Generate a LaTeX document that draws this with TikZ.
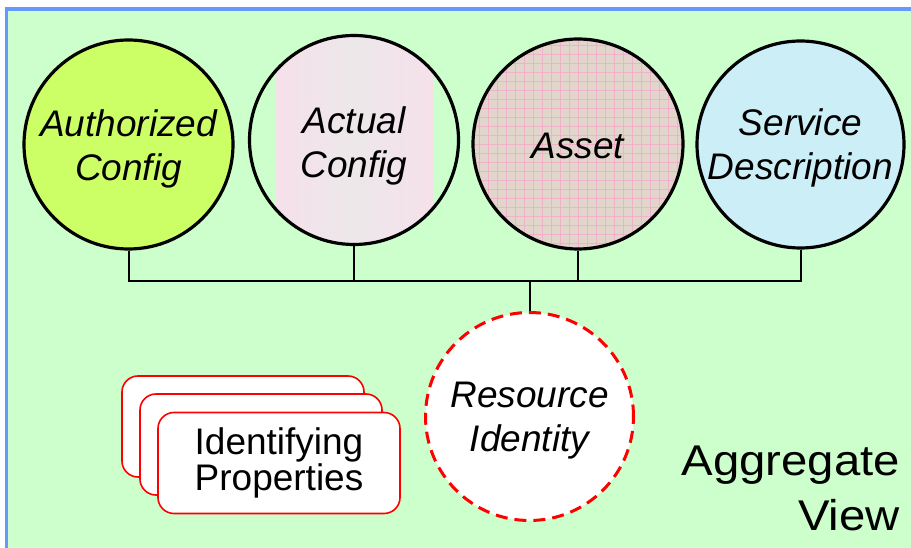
\documentclass[tikz,border=0pt]{standalone}
\usepackage{fontspec}
\setmainfont{Liberation Sans}
\definecolor{bggreen}{HTML}{CCFFCC}
\definecolor{frameblue}{HTML}{6699FF}
\definecolor{authfill}{HTML}{CCFF66}
\definecolor{actpink}{HTML}{F6E0EA}
\definecolor{actgray}{HTML}{ECE8EA}
\definecolor{assetfill}{HTML}{E2D6CC}
\definecolor{assetgrid}{HTML}{F4AACB}
\definecolor{svcfill}{HTML}{CCEEF6}
\tikzset{
  bigc/.style={circle, draw=black, line width=3.2pt, inner sep=0pt},
  ctext/.style={font=\fontsize{37}{44}\selectfont\itshape, align=center, inner sep=0pt},
  bus/.style={draw=black, line width=2pt},
  propbox/.style={draw=red, line width=1.6pt, fill=white, rounded corners=16pt,
    minimum width=242pt, minimum height=101pt, inner sep=0pt},
  ptext/.style={font=\fontsize{37}{33}\selectfont, align=center, inner sep=0pt},
  ridash/.style={circle, draw=red, line width=3pt, fill=white, dash pattern=on 12pt off 7pt,
    minimum size=208pt, inner sep=0pt}
}
\begin{document}
\begin{tikzpicture}[x=1pt,y=-1pt]
\useasboundingbox (0,0) rectangle (911,548);
% frame
\fill[white] (0,0) rectangle (911,548);
\draw[frameblue, fill=bggreen, line width=3.5pt] (6.5,9) rectangle (930,570);

% Actual config shading band
\begin{scope}
  \clip (354,140) circle[radius=105pt];
  \shade[left color=actpink, right color=actpink, middle color=actgray] (276,30) rectangle (433,250);
\end{scope}
% Asset grid pattern
\begin{scope}
  \clip (578,144) circle[radius=105pt];
  \fill[assetfill] (470,36) rectangle (686,252);
  \foreach \i in {0,...,24} {
    \draw[assetgrid, line width=0.7pt, opacity=0.8] (470+9*\i,36) -- (470+9*\i,252);
    \draw[assetgrid, line width=0.7pt, opacity=0.8] (470,36+9*\i) -- (686,36+9*\i);
  }
\end{scope}

% circles
\node[bigc, fill=authfill, minimum size=209pt] (a1) at (128.5,144.5) {};
\node[bigc, minimum size=209pt] (a2) at (354,140) {};
\node[bigc, minimum size=210pt] (a3) at (578,144) {};
\node[bigc, fill=svcfill, minimum size=207pt] (a4) at (800.5,144.5) {};

\node[ctext] (t1) at ([yshift=-4pt]a1.center) {Authorized\\Config};
\node[ctext] (t2) at ([yshift=-6pt]a2.center) {Actual\\Config};
\node[ctext] (t3) at ([yshift=-2pt]a3.center) {Asset};
\node[ctext] (t4) at ([yshift=-3.5pt]a4.center) {Service\\Description};

% connectors
\coordinate (hub) at (529.5,281);
\draw[bus] (a1.south) |- (hub);
\draw[bus] (a4.south) |- (hub);
\draw[bus] (a2.south) |- (hub);
\draw[bus] (a3.south) |- (hub);

\node[ridash] (ri) at (529.5,416.5) {};
\node[ctext] (rit) at ([yshift=-4.5pt]ri.center) {Resource\\Identity};
\draw[bus] (hub) -- (ri.north);

% identifying properties
\node[propbox] (p1) at (243,426.5) {};
\node[propbox] (p2) at (261,444.5) {};
\node[propbox] (p3) at (279,463) {};
\node[ptext] (pt) at ([yshift=0pt]p3.center) {Identifying\\Properties};

% aggregate view
\node[font=\fontsize{43}{55}\selectfont, align=right, inner sep=0pt, anchor=east] (agg) at (900,488)
  {\scalebox{1.1}[1]{Aggregate}\\\scalebox{1.1}[1]{View}};
\end{tikzpicture}
\end{document}
